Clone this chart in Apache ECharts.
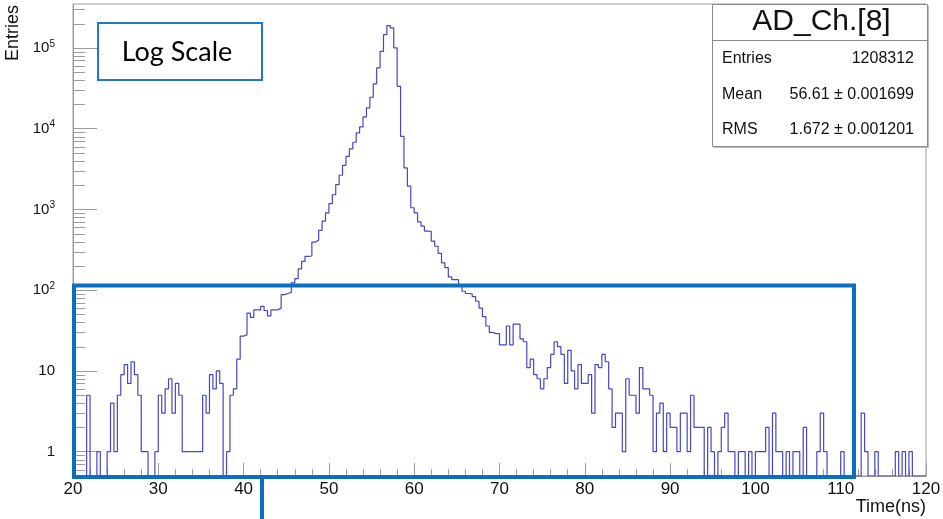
<!DOCTYPE html>
<html>
<head>
<meta charset="utf-8">
<script src="https://cdn.jsdelivr.net/npm/echarts@6/dist/echarts.min.js"></script>
<style>
  html, body { margin: 0; padding: 0; background: #ffffff; }
  #chart { width: 943px; height: 519px; }
</style>
</head>
<body>
<div id="chart"></div>
<script>
// Histogram binning: 250 bins of 0.4 ns between 20 and 120 ns
const X_MIN = 20;
const X_MAX = 120;
const BIN_WIDTH = 0.4;
const X_TICK_STEP = 10;

// Log-scale vertical range
const Y_MIN = 0.5;
const Y_MAX = 3.5e5;

// Bin contents, 20 - 50 ns
const countsRise = [
  0, 0, 0, 0, 5, 0, 0, 1, 0, 0,
  1, 4, 1, 5, 9, 12, 7, 13, 9, 5,
  1, 1, 0, 0, 1, 5, 3, 6, 8, 3,
  7, 5, 1, 1, 1, 1, 1, 1, 5, 3,
  9, 6, 10, 7, 0, 1, 5, 6, 14, 27,
  28, 52, 46, 57, 57, 63, 56, 48, 57, 57,
  60, 88, 91, 94, 123, 139, 184, 228, 262, 265,
  394, 415, 552, 718, 906
];

// Bin contents, 50 - 70 ns
const countsPeak = [
  1180, 1520, 2030, 2650, 3520,
  4550, 5620, 6790, 8880, 10500, 14000, 18100, 24500, 35800, 56500,
  90800, 146000, 189000, 177000, 100000, 33500, 8050, 3270, 1940, 1050,
  906, 700, 620, 540, 537, 405, 350, 285, 218, 190,
  146, 135, 135, 112, 97, 91, 90, 83, 73, 60,
  47, 36, 30, 29, 29
];

// Bin contents, 70 - 120 ns
const countsTail = [
  21, 21, 36, 21, 38,
  38, 25, 23, 11, 14, 9, 8, 6, 8, 11,
  16, 23, 20, 16, 7, 18, 10, 6, 12, 7,
  7, 9, 3, 12, 11, 16, 13, 6, 2, 3,
  3, 1, 8, 5, 5, 3, 11, 6, 6, 5,
  1, 3, 4, 1, 3, 2, 2, 1, 3, 3,
  1, 5, 2, 2, 2, 0, 2, 1, 0, 1,
  2, 3, 1, 1, 0, 1, 1, 0, 1, 0,
  1, 1, 1, 2, 0, 3, 1, 1, 0, 1,
  0, 1, 1, 0, 2, 0, 0, 0, 1, 3,
  1, 0, 0, 0, 0, 1, 0, 0, 0, 0,
  0, 3, 1, 0, 0, 1, 0, 0, 0, 0,
  0, 1, 0, 1, 0, 1, 0, 0, 0, 0
];

// Statistics box contents
const statsTitle = 'AD_Ch.[8]';
const statsLabels = ['Entries', 'Mean', 'RMS'];
const statsValues = ['1208312', '56.61 \u00b1 0.001699', '1.672 \u00b1 0.001201'];

const GRID = { left: 73, right: 17, top: 4, bottom: 43 };
const AXIS_GREY = '#9c9c9c';
const HIST_COLOR = '#4646c6';
const NOTE_BLUE = '#0a6fbf';
const FONT = '"Liberation Sans", Arial, Helvetica, sans-serif';

const counts = countsRise.concat(countsPeak, countsTail);
// Empty bins sit on the bottom of the frame, as on a log axis they cannot be shown
const histPoints = counts.map(function (c, i) {
  return [X_MIN + i * BIN_WIDTH, c > 0 ? c : Y_MIN];
});
histPoints.push([X_MAX, histPoints[histPoints.length - 1][1]]);

const chart = echarts.init(document.getElementById('chart'), null, { renderer: 'canvas' });

chart.setOption({
  animation: false,
  backgroundColor: '#ffffff',
  grid: {
    left: GRID.left, right: GRID.right, top: GRID.top, bottom: GRID.bottom,
    containLabel: false,
    outerBoundsMode: 'none',
    show: true,
    borderColor: AXIS_GREY,
    borderWidth: 1,
    backgroundColor: 'transparent'
  },
  xAxis: {
    type: 'value',
    min: X_MIN,
    max: X_MAX,
    interval: X_TICK_STEP,
    axisLine: { show: true, lineStyle: { color: AXIS_GREY, width: 1 } },
    axisTick: { show: true, inside: true, length: 13, lineStyle: { color: AXIS_GREY } },
    minorTick: { show: true, splitNumber: 5, length: 7, lineStyle: { color: AXIS_GREY } },
    splitLine: { show: false },
    axisLabel: {
      margin: 5,
      color: '#111111',
      fontFamily: FONT,
      fontSize: 17,
      showMinLabel: true,
      showMaxLabel: true
    }
  },
  yAxis: {
    type: 'log',
    logBase: 10,
    min: Y_MIN,
    max: Y_MAX,
    axisLine: { show: true, lineStyle: { color: AXIS_GREY, width: 1 } },
    axisTick: { show: true, inside: true, length: 24, lineStyle: { color: AXIS_GREY } },
    minorTick: { show: false },
    splitLine: { show: false },
    axisLabel: {
      margin: 18,
      color: '#111111',
      fontFamily: FONT,
      fontSize: 15,
      showMinLabel: false,
      showMaxLabel: false,
      formatter: function (value) {
        const e = Math.round(Math.log10(value));
        if (e === 0) return '1';
        if (e === 1) return '10';
        return '10{sup|' + e + '}';
      },
      rich: {
        sup: { fontSize: 10, fontFamily: FONT, color: '#111111', verticalAlign: 'top', lineHeight: 18 }
      }
    }
  },
  series: [{
    type: 'line',
    step: 'end',
    data: histPoints,
    showSymbol: false,
    symbol: 'none',
    clip: true,
    silent: true,
    lineStyle: { color: HIST_COLOR, width: 1.2 },
    z: 3
  }]
});

// Log-axis minor ticks at 2..9 of every decade
const minorTickValues = [];
for (let d = -1; d <= 5; d++) {
  for (let m = 2; m <= 9; m++) {
    const v = m * Math.pow(10, d);
    if (v > Y_MIN && v < Y_MAX) minorTickValues.push(v);
  }
}
const minorTickLines = minorTickValues.map(function (v) {
  const py = Math.round(chart.convertToPixel({ yAxisIndex: 0 }, v)) + 0.5;
  return {
    type: 'line',
    shape: { x1: GRID.left, y1: py, x2: GRID.left + 12, y2: py },
    style: { stroke: AXIS_GREY, lineWidth: 1 },
    z: 5
  };
});

// Statistics box
const statsBox = { x: 712, y: 4, w: 215, h: 142 };
const statsRowsY = [59, 95, 130];
const statsGraphic = [
  {
    type: 'rect',
    shape: { x: statsBox.x + 2, y: statsBox.y + 2, width: statsBox.w, height: statsBox.h },
    style: { fill: '#bdbdbd', stroke: null },
    z: 40
  },
  {
    type: 'rect',
    shape: { x: statsBox.x + 0.5, y: statsBox.y + 0.5, width: statsBox.w, height: statsBox.h },
    style: { fill: '#ffffff', stroke: '#8a8a8a', lineWidth: 1 },
    z: 41
  },
  {
    type: 'line',
    shape: { x1: statsBox.x, y1: 40.5, x2: statsBox.x + statsBox.w, y2: 40.5 },
    style: { stroke: '#8a8a8a', lineWidth: 1 },
    z: 42
  },
  {
    type: 'text',
    x: statsBox.x + statsBox.w / 2 + 2,
    y: 22,
    style: { text: statsTitle, font: '30px ' + FONT, fill: '#111111', align: 'center', verticalAlign: 'middle' },
    z: 42
  }
];
statsLabels.forEach(function (label, i) {
  statsGraphic.push({
    type: 'text', x: statsBox.x + 10, y: statsRowsY[i],
    style: { text: label, font: '16px ' + FONT, fill: '#111111', align: 'left', verticalAlign: 'middle' },
    z: 42
  });
  statsGraphic.push({
    type: 'text', x: statsBox.x + 202, y: statsRowsY[i],
    style: { text: statsValues[i], font: '16px ' + FONT, fill: '#111111', align: 'right', verticalAlign: 'middle' },
    z: 42
  });
});

// Axis titles
const titleGraphic = [
  {
    type: 'text', x: 13, y: 5, rotation: Math.PI / 2,
    style: { text: 'Entries', font: '18px ' + FONT, fill: '#111111', align: 'right', verticalAlign: 'middle' },
    z: 30
  },
  {
    type: 'text', x: 926, y: 507,
    style: { text: 'Time(ns)', font: '18px ' + FONT, fill: '#111111', align: 'right', verticalAlign: 'middle' },
    z: 30
  }
];

// Annotations: "Log Scale" label box and the highlighted low-count region
const noteGraphic = [
  {
    type: 'rect',
    shape: { x: 98, y: 23, width: 164, height: 57 },
    style: { fill: '#ffffff', stroke: '#1f79c4', lineWidth: 2 },
    z: 50
  },
  {
    type: 'text', x: 177, y: 52,
    style: { text: 'Log Scale', font: '27px Lato, "Open Sans", sans-serif', fill: '#000000', align: 'center', verticalAlign: 'middle' },
    z: 51
  },
  {
    type: 'rect',
    shape: { x: 74, y: 285.5, width: 780, height: 191.5 },
    style: { fill: 'none', stroke: NOTE_BLUE, lineWidth: 4 },
    z: 60
  },
  {
    type: 'line',
    shape: { x1: 262, y1: 477, x2: 262, y2: 519 },
    style: { stroke: NOTE_BLUE, lineWidth: 4 },
    z: 60
  }
];

chart.setOption({
  graphic: minorTickLines.concat(statsGraphic, titleGraphic, noteGraphic)
});
</script>
</body>
</html>
